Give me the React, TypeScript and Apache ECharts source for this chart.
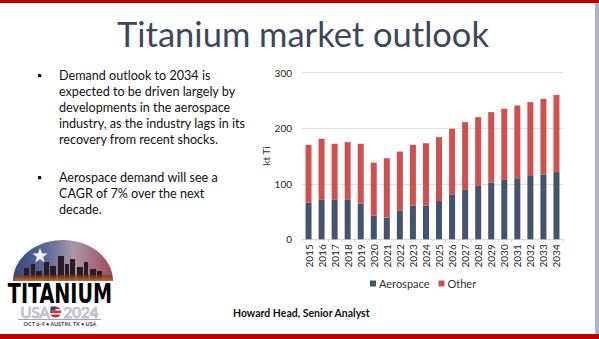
import React, { useEffect, useRef } from 'react';
import * as echarts from 'echarts';

const years = ['2015', '2016', '2017', '2018', '2019', '2020', '2021', '2022', '2023', '2024', '2025', '2026', '2027', '2028', '2029', '2030', '2031', '2032', '2033', '2034'];
const aerospace = [66, 71, 71, 71, 64, 43, 39, 52, 61, 61, 69, 81, 89, 96, 102, 107, 110, 114, 117, 121];
const other = [104, 110, 101, 104, 108, 95, 107, 106, 109, 112, 115, 118, 122, 124, 127, 128, 131, 133, 136, 139];
const seriesNames = ['Aerospace', 'Other'];
const yMax = 300;
const yInterval = 100;

const title = 'Titanium market outlook';
const bullet1 = ['Demand outlook to 2034 is', 'expected to be driven largely by', 'developments in the aerospace', 'industry, as the industry lags in its', 'recovery from recent shocks.'];
const bullet2 = ['Aerospace demand will see a', 'CAGR of 7% over the next', 'decade.'];
const author = 'Howard Head, Senior Analyst';

const FONT = 'Lato, "Open Sans", sans-serif';

function domePoints(cx: number, cy: number, rx: number, ry: number) {
  const pts: number[][] = [];
  for (let i = 0; i <= 40; i++) {
    const a = Math.PI * (i / 40);
    pts.push([cx - rx * Math.cos(a), cy - ry * Math.sin(a)]);
  }
  return pts;
}

function starPoints(cx: number, cy: number, r: number) {
  const pts: number[][] = [];
  for (let i = 0; i < 10; i++) {
    const a = -Math.PI / 2 + (i * Math.PI) / 5;
    const rr = i % 2 === 0 ? r : r * 0.42;
    pts.push([cx + rr * Math.cos(a), cy + rr * Math.sin(a)]);
  }
  return pts;
}

export default function App() {
  const ref = useRef<HTMLDivElement>(null);
  useEffect(() => {
    document.body.style.margin = '0';
    const chart = echarts.init(ref.current!, null, { renderer: 'svg' });

    const textLines: any[] = [];
    bullet1.forEach((t, i) => {
      textLines.push({ type: 'text', x: 59, y: 75.5 + i * 15.9, style: { text: t, fontSize: 12.6, fontFamily: FONT, fill: '#111', verticalAlign: 'middle' } });
    });
    bullet2.forEach((t, i) => {
      textLines.push({ type: 'text', x: 59, y: 177.5 + i * 15.8, style: { text: t, fontSize: 12.6, fontFamily: FONT, fill: '#111', verticalAlign: 'middle' } });
    });

    const buildings = [
      [24, 268, 5, 13], [31, 264, 4, 17], [36, 271, 6, 10], [44, 262, 5, 19], [50, 266, 6, 15],
      [58, 256, 6, 25], [65, 264, 4, 17], [70, 259, 5, 22], [77, 267, 6, 14], [84, 262, 4, 19],
      [90, 269, 6, 12], [97, 271, 5, 10],
    ];

    const logo: any[] = [
      {
        type: 'polygon', shape: { points: domePoints(63, 281, 50, 41) },
        style: {
          fill: new echarts.graphic.LinearGradient(0, 0, 1, 0, [
            { offset: 0, color: '#34467a' },
            { offset: 0.35, color: '#5e6c98' },
            { offset: 0.6, color: '#a898a8' },
            { offset: 1, color: '#a04a58' },
          ]),
        },
      },
      { type: 'polygon', shape: { points: starPoints(40, 256, 8) }, style: { fill: '#eef0f6' } },
      ...buildings.map((b) => ({ type: 'rect', shape: { x: b[0], y: b[1], width: b[2], height: b[3] }, style: { fill: '#2b1c24' } })),
      {
        type: 'rect', shape: { x: 14, y: 275, width: 98, height: 6 },
        style: {
          fill: new echarts.graphic.LinearGradient(0, 0, 0, 1, [
            { offset: 0, color: 'rgba(120,50,30,0.6)' },
            { offset: 1, color: '#c8702c' },
          ]),
        },
      },
      {
        type: 'text', x: 60, y: 294, scaleX: 0.82,
        style: {
          text: 'TITANIUM', fontSize: 26, fontWeight: 'bold', fontFamily: '"DejaVu Sans Condensed", "Liberation Sans Narrow", sans-serif',
          fill: new echarts.graphic.LinearGradient(0, 0, 0, 1, [
            { offset: 0, color: '#e2852f' },
            { offset: 1, color: '#8e2a14' },
          ]),
          align: 'center', verticalAlign: 'middle',
        },
      },
      { type: 'text', x: 35, y: 312, style: { text: 'USA', fontSize: 15, fontFamily: 'Lato, sans-serif', fill: '#c9cbd3', stroke: '#7d8090', lineWidth: 0.6, align: 'center', verticalAlign: 'middle' } },
      { type: 'circle', shape: { cx: 55.5, cy: 312, r: 6 }, style: { fill: '#c8323a', stroke: '#ffffff', lineWidth: 1 } },
      { type: 'rect', shape: { x: 49.5, y: 309, width: 12, height: 1.5 }, style: { fill: '#ffffff' } },
      { type: 'rect', shape: { x: 49.5, y: 313, width: 12, height: 1.5 }, style: { fill: '#ffffff' } },
      { type: 'rect', shape: { x: 50.5, y: 306.5, width: 5, height: 4 }, style: { fill: '#2c3f8a' } },
      { type: 'text', x: 81, y: 312, style: { text: '2024', fontSize: 15, fontFamily: 'Lato, sans-serif', fill: '#c9cbd3', stroke: '#7d8090', lineWidth: 0.6, align: 'center', verticalAlign: 'middle' } },
      { type: 'line', shape: { x1: 18, y1: 319.5, x2: 101, y2: 319.5 }, style: { stroke: '#7d8aa8', lineWidth: 0.8 } },
      { type: 'text', x: 60, y: 323.5, style: { text: 'OCT 6-9 • AUSTIN, TX • USA', fontSize: 5.5, fontWeight: 'bold', fontFamily: 'Lato, sans-serif', fill: '#3a4056', align: 'center', verticalAlign: 'middle' } },
    ];

    const option: any = {
      animation: false,
      backgroundColor: '#ffffff',
      color: ['#44546a', '#d0504f'],
      graphic: [
        { type: 'rect', shape: { x: 0, y: 0, width: 599, height: 3 }, style: { fill: '#c00000' } },
        { type: 'rect', shape: { x: 0, y: 334, width: 599, height: 5 }, style: { fill: '#c00000' } },
        { type: 'rect', shape: { x: 595, y: 3, width: 4, height: 331 }, style: { fill: '#aeb1cb' } },
        { type: 'text', x: 303, y: 33, style: { text: title, fontSize: 34.5, fontFamily: FONT, fill: '#3e4757', align: 'center', verticalAlign: 'middle' } },
        { type: 'rect', shape: { x: 38, y: 74, width: 3.2, height: 3.2 }, style: { fill: '#111' } },
        { type: 'rect', shape: { x: 38, y: 176, width: 3.2, height: 3.2 }, style: { fill: '#111' } },
        ...textLines,
        { type: 'text', x: 233, y: 313, style: { text: author, fontSize: 10.5, fontWeight: 'bold', fontFamily: FONT, fill: '#111', verticalAlign: 'middle' } },
        ...logo,
      ],
      legend: {
        data: seriesNames,
        left: 365,
        top: 273,
        icon: 'rect',
        itemWidth: 6,
        itemHeight: 6,
        itemGap: 9,
        textStyle: { fontSize: 11, fontFamily: FONT, color: '#333', padding: [0, 0, 0, -2] },
      },
      grid: { left: 302, right: 36, top: 72.7, bottom: 99.7 },
      xAxis: {
        type: 'category',
        data: years,
        axisLine: { lineStyle: { color: '#d9d9d9' } },
        axisTick: { show: true, length: 3, lineStyle: { color: '#d9d9d9' } },
        axisLabel: { rotate: 90, fontSize: 10, fontFamily: FONT, color: '#222', margin: 5, interval: 0 },
      },
      yAxis: {
        type: 'value',
        min: 0,
        max: yMax,
        interval: yInterval,
        name: 'kt Ti',
        nameLocation: 'middle',
        nameGap: 29,
        nameTextStyle: { fontSize: 10, fontFamily: FONT, color: '#333' },
        axisLine: { show: false },
        axisTick: { show: false },
        splitLine: { lineStyle: { color: '#e0e0e0' } },
        axisLabel: { fontSize: 10, fontFamily: FONT, color: '#222', margin: 10 },
      },
      series: [
        { name: seriesNames[0], type: 'bar', stack: 'total', data: aerospace, barWidth: 6 },
        { name: seriesNames[1], type: 'bar', stack: 'total', data: other, barWidth: 6 },
      ],
    };
    chart.setOption(option);
    return () => chart.dispose();
  }, []);
  return <div ref={ref} style={{ position: 'absolute', left: 0, top: 0, width: 599, height: 339 }} />;
}
